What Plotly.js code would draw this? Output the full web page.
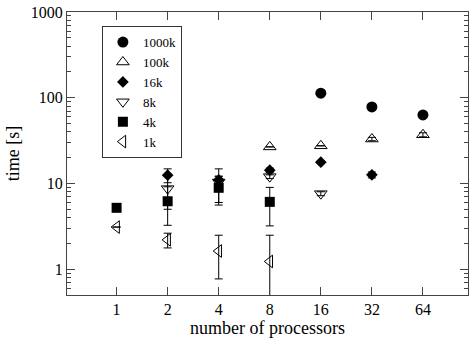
<!DOCTYPE html>
<html>
<head>
<meta charset="utf-8">
<script src="https://cdn.plot.ly/plotly-3.0.1.min.js"></script>
<style>html,body{margin:0;padding:0;background:#fff;}#chart{width:470px;height:338px;}</style>
</head>
<body>
<div id="chart"></div>
<script>
// Data
const tickProcs = [1, 2, 4, 8, 16, 32, 64];
const tickTimes = [1, 10, 100, 1000];

const x1000k = [16, 32, 64];
const y1000k = [113, 78, 63];

const x100k = [8, 16, 32, 64];
const y100k = [26.7, 27.5, 33, 37];
const e100k = [0, 0, 1.5, 2];

const x16k = [2, 4, 8, 16, 32];
const y16k = [12.5, 11, 14.3, 17.7, 12.6];
const e16k = [2.3, 1, 0.8, 0.5, 1.0];

const x8k = [2, 4, 8, 16];
const y8k = [8.7, 10.4, 12, 7.6];
const e8k = [3.7, 4.4, 0.6, 0.4];

const x4k = [1, 2, 4, 8];
const y4k = [5.2, 6.2, 8.9, 6.1];
const e4k = [0, 2.95, 3.3, 2.9];

const x1k = [1, 2, 4, 8];
const y1k = [3.1, 2.2, 1.63, 1.23];
const e1kPlus = [0, 0.43, 0.86, 1.26];
const e1kMinus = [0, 0.43, 0.86, 1.2];

const serif = 'Liberation Serif';
const ebar = (arr, minus) => ({type: 'data', array: arr, arrayminus: minus || arr, visible: true,
  color: '#000', thickness: 1, width: 4});

const traces = [
  {name: '1000k', x: x1000k, y: y1000k, mode: 'markers', type: 'scatter',
   marker: {symbol: 'circle', size: 11, color: '#000'}},
  {name: '100k', x: x100k, y: y100k, mode: 'markers', type: 'scatter', error_y: ebar(e100k),
   marker: {symbol: 'triangle-up-open', size: 11, color: '#000', line: {width: 1}}},
  {name: '16k', x: x16k, y: y16k, mode: 'markers', type: 'scatter', error_y: ebar(e16k),
   marker: {symbol: 'diamond', size: 9, color: '#000'}},
  {name: '8k', x: x8k, y: y8k, mode: 'markers', type: 'scatter', error_y: ebar(e8k),
   marker: {symbol: 'triangle-down-open', size: 11, color: '#000', line: {width: 1}}},
  {name: '4k', x: x4k, y: y4k, mode: 'markers', type: 'scatter', error_y: ebar(e4k),
   marker: {symbol: 'square', size: 10, color: '#000'}},
  {name: '1k', x: x1k, y: y1k, mode: 'markers', type: 'scatter', error_y: ebar(e1kPlus, e1kMinus),
   marker: {symbol: 'triangle-left-open', size: 11, color: '#000', line: {width: 1}}}
];

const layout = {
  width: 470, height: 338,
  margin: {l: 67, r: 2, t: 12, b: 43},
  paper_bgcolor: '#fff', plot_bgcolor: '#fff',
  font: {family: serif, size: 16, color: '#000'},
  showlegend: true,
  legend: {x: 0.087, y: 0.95, xanchor: 'left', yanchor: 'top',
    bordercolor: '#333', borderwidth: 1, bgcolor: '#fff',
    font: {family: serif, size: 13, color: '#000'}, itemwidth: 30, tracegroupgap: 0},
  xaxis: {type: 'log', range: [Math.log10(0.51), Math.log10(118)],
    tickvals: tickProcs, ticktext: tickProcs.map(String),
    ticks: 'inside', ticklen: 8, tickcolor: '#444', mirror: 'ticks',
    showline: true, linecolor: '#444', linewidth: 1, showgrid: false, zeroline: false,
    tickfont: {family: serif, size: 16},
    title: {text: 'number of processors', font: {family: serif, size: 18}, standoff: 0}},
  yaxis: {type: 'log', range: [Math.log10(0.5), 3],
    tickvals: tickTimes, ticktext: tickTimes.map(String),
    ticks: 'inside', ticklen: 8, tickcolor: '#444', mirror: 'ticks',
    minor: {ticks: 'inside', ticklen: 4, dtick: 'D1', tickcolor: '#444', showgrid: false},
    showline: true, linecolor: '#444', linewidth: 1, showgrid: false, zeroline: false,
    tickfont: {family: serif, size: 16},
    title: {text: 'time [s]', font: {family: serif, size: 18}, standoff: 6}}
};

Plotly.newPlot('chart', traces, layout, {displayModeBar: false, staticPlot: true});
</script>
</body>
</html>
